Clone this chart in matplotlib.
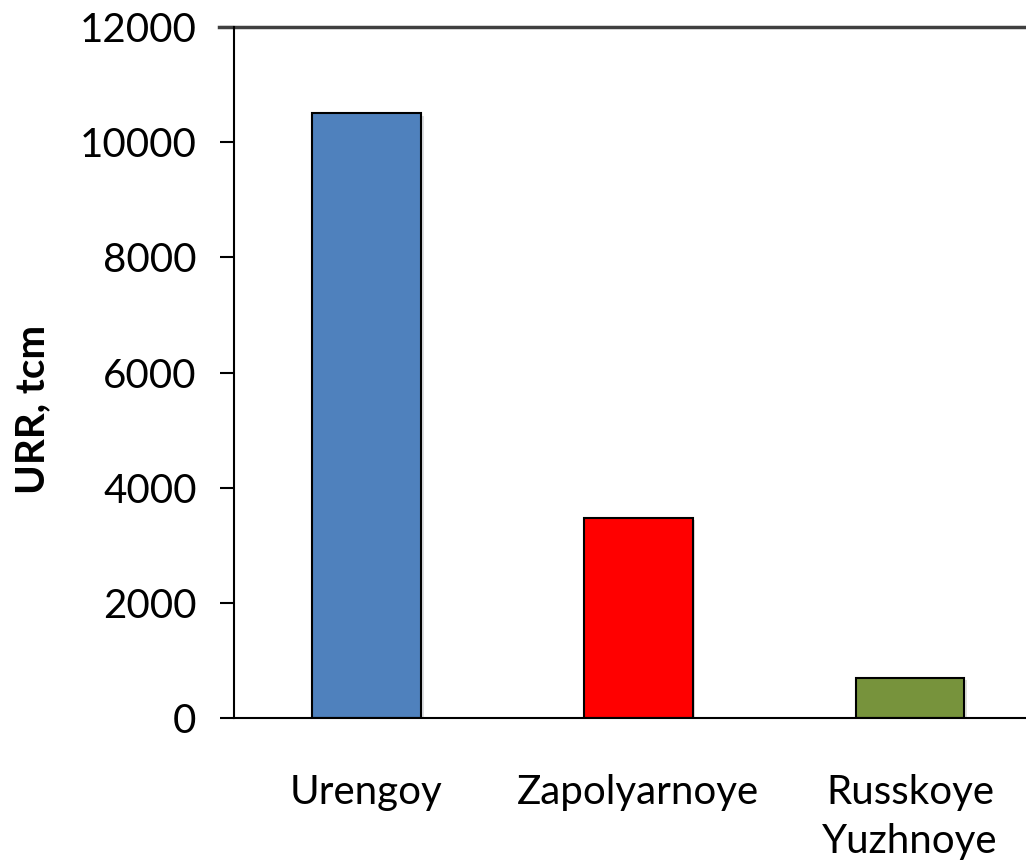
import matplotlib.pyplot as plt
import matplotlib.patheffects as pe

fields = ['Urengoy', 'Zapolyarnoye', 'Russkoye\nYuzhnoye']
urr = [10500, 3480, 700]
colors = ['#4F81BD', '#FF0000', '#77933C']

plt.rcParams['font.family'] = ['Lato', 'DejaVu Sans']

fig = plt.figure(figsize=(10.26, 8.64), dpi=100)
# axes runs past the right edge, as in the cropped original
ax = fig.add_axes([234 / 1026, 1 - 718 / 864, 812 / 1026, 691 / 864])

bars = ax.bar(range(len(fields)), urr, width=0.4, color=colors,
              edgecolor='black', linewidth=1.5)
for b in bars:
    b.set_path_effects([pe.SimplePatchShadow(offset=(2, -2), alpha=0.15),
                        pe.Normal()])

ax.set_xlim(-0.487, 2.5)
ax.set_ylim(0, 12000)
ax.set_yticks(range(0, 12001, 2000))
ax.set_xticks(range(len(fields)))
ax.set_xticklabels(fields, fontsize=29, linespacing=1.4)
ax.tick_params(axis='y', labelsize=29, length=10, width=1.5, pad=17,
               colors='black')
ax.tick_params(axis='x', length=0, pad=40)

ax.axhline(12000, xmin=-0.018, color='#404040', lw=2.5, clip_on=False)

for s in ['left', 'bottom']:
    ax.spines[s].set_linewidth(1.5)
ax.spines['right'].set_visible(False)
ax.spines['top'].set_visible(False)

ax.set_ylabel('URR, tcm', fontsize=29, fontweight='bold')
ax.yaxis.set_label_coords(-0.225, 0.446)

fig.savefig('out.png', dpi=100)
